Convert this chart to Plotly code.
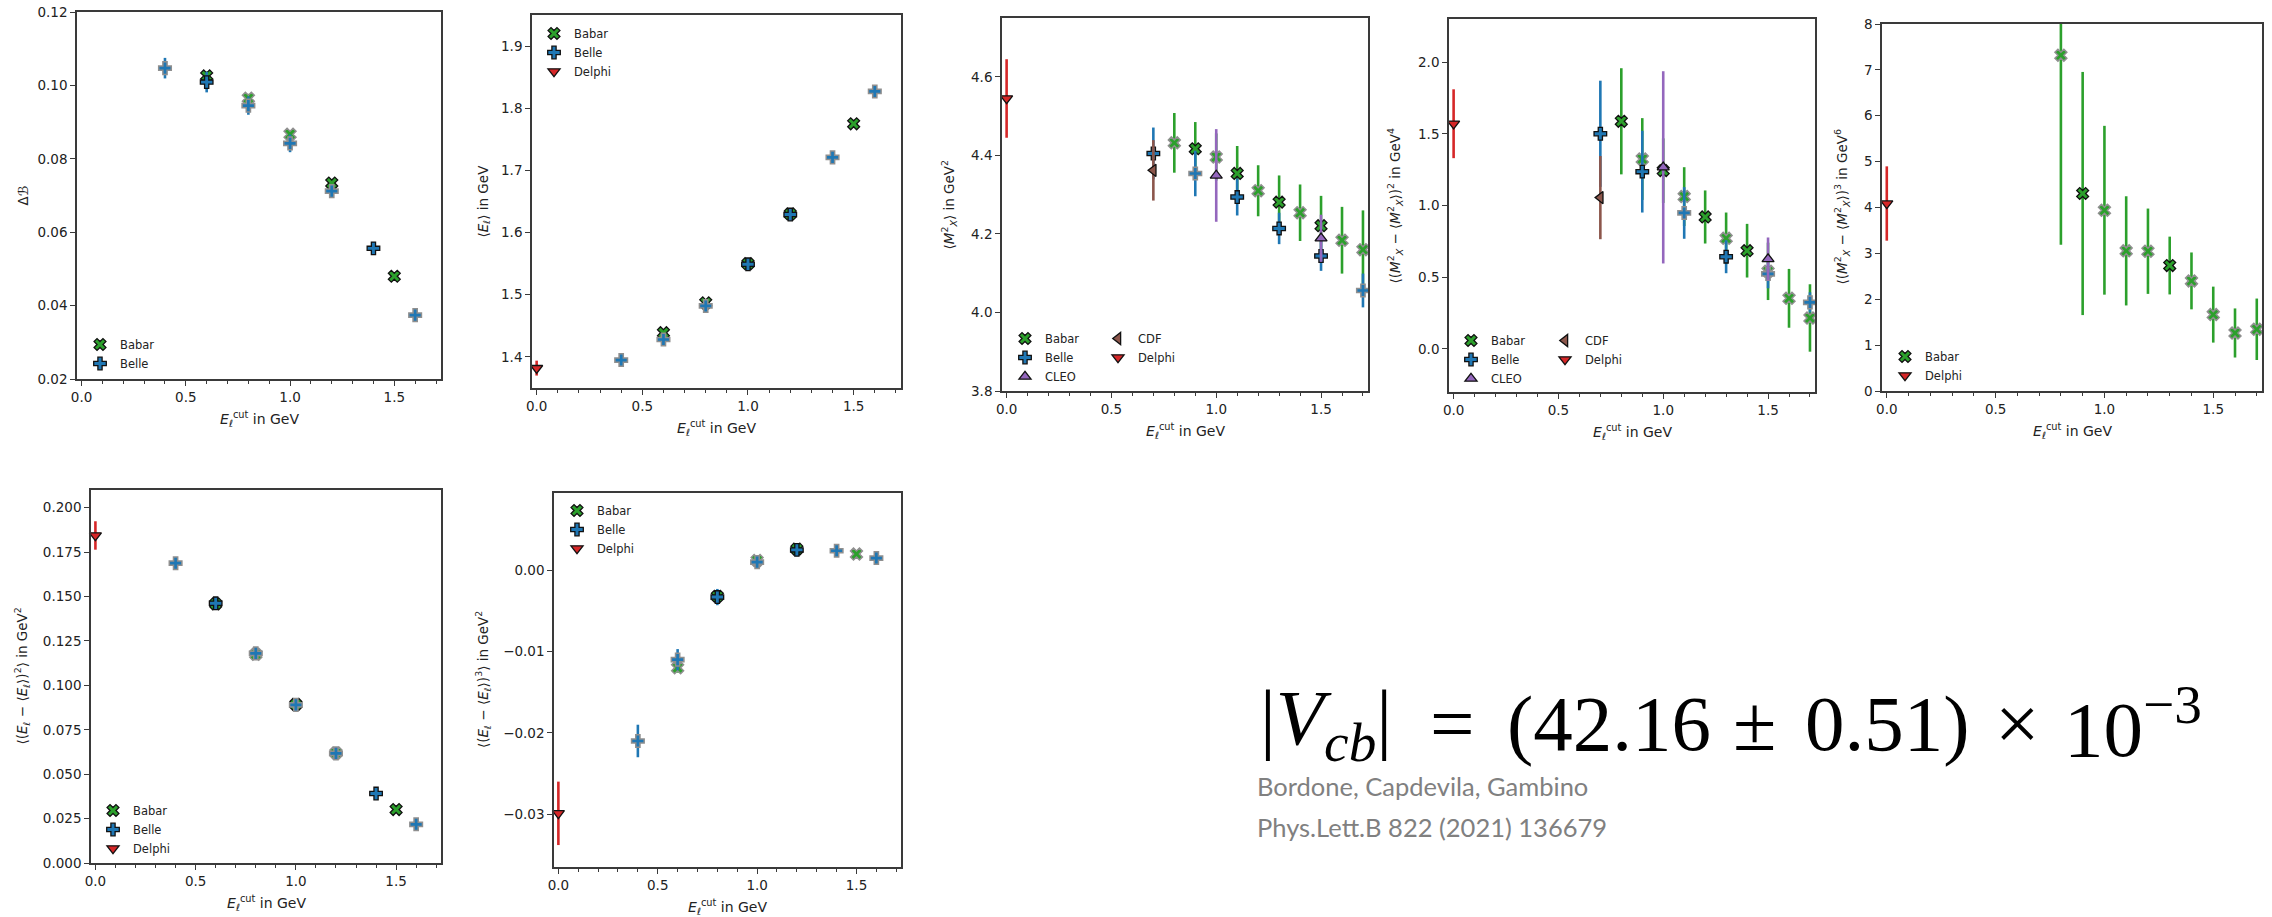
import plotly.graph_objects as go

W, H = 2272, 917

# ---------------- data ----------------
# Panel 1: Delta B
dB_babar_x = [0.6, 0.8, 1.0, 1.2, 1.5]
dB_babar_y = [0.1026, 0.0965, 0.0867, 0.0734, 0.0480]
dB_babar_e = [0.0012, 0.0012, 0.0010, 0.0008, 0.0005]
dB_babar_fit = [1, 0, 0, 1, 1]
dB_belle_x = [0.4, 0.6, 0.8, 1.0, 1.2, 1.4, 1.6]
dB_belle_y = [0.1047, 0.1009, 0.0945, 0.0842, 0.0712, 0.0556, 0.0374]
dB_belle_e = [0.0028, 0.0028, 0.0025, 0.0024, 0.0018, 0.0010, 0.0008]
dB_belle_fit = [0, 1, 0, 0, 0, 1, 0]

# Panel 2: <E_l>
El_babar_x = [0.6, 0.8, 1.0, 1.2, 1.5]
El_babar_y = [1.439, 1.487, 1.550, 1.630, 1.775]
El_babar_e = [0.004, 0.004, 0.003, 0.003, 0.003]
El_babar_fit = [1, 1, 1, 1, 1]
El_belle_x = [0.4, 0.6, 0.8, 1.0, 1.2, 1.4, 1.6]
El_belle_y = [1.395, 1.428, 1.482, 1.549, 1.629, 1.721, 1.827]
El_belle_e = [0.004, 0.004, 0.004, 0.004, 0.003, 0.003, 0.003]
El_belle_fit = [0, 0, 0, 1, 1, 0, 0]
El_delphi_x = [0.0]
El_delphi_y = [1.382]
El_delphi_e = [0.012]
El_delphi_fit = [1]

# Panel 3: <M_X^2>
M2_babar_x = [0.8, 0.9, 1.0, 1.1, 1.2, 1.3, 1.4, 1.5, 1.6, 1.7]
M2_babar_y = [4.432, 4.417, 4.396, 4.354, 4.310, 4.281, 4.254, 4.221, 4.184, 4.160]
M2_babar_e = [0.076, 0.068, 0.060, 0.070, 0.065, 0.068, 0.072, 0.076, 0.085, 0.100]
M2_babar_fit = [0, 1, 0, 1, 0, 1, 0, 1, 0, 0]
M2_belle_x = [0.7, 0.9, 1.1, 1.3, 1.5, 1.7]
M2_belle_y = [4.405, 4.354, 4.294, 4.214, 4.144, 4.056]
M2_belle_e = [0.066, 0.058, 0.047, 0.040, 0.038, 0.043]
M2_belle_fit = [1, 0, 1, 1, 1, 0]
M2_cleo_x = [1.0, 1.5]
M2_cleo_y = [4.349, 4.189]
M2_cleo_e = [0.118, 0.060]
M2_cleo_fit = [1, 1]
M2_cdf_x = [0.7]
M2_cdf_y = [4.362]
M2_cdf_e = [0.077]
M2_cdf_fit = [1]
M2_delphi_x = [0.0]
M2_delphi_y = [4.545]
M2_delphi_e = [0.100]
M2_delphi_fit = [1]

# Panel 4: second central moment of M_X^2
M4_babar_x = [0.8, 0.9, 1.0, 1.1, 1.2, 1.3, 1.4, 1.5, 1.6, 1.7]
M4_babar_y = [1.587, 1.324, 1.243, 1.062, 0.920, 0.771, 0.685, 0.541, 0.353, 0.216]
M4_babar_e = [0.370, 0.285, 0.225, 0.205, 0.185, 0.180, 0.187, 0.200, 0.205, 0.235]
M4_babar_fit = [1, 0, 1, 0, 1, 0, 1, 0, 0, 0]
M4_belle_x = [0.7, 0.9, 1.1, 1.3, 1.5, 1.7]
M4_belle_y = [1.500, 1.236, 0.948, 0.643, 0.523, 0.325]
M4_belle_e = [0.370, 0.285, 0.180, 0.115, 0.100, 0.070]
M4_belle_fit = [1, 1, 0, 1, 0, 0]
M4_cleo_x = [1.0, 1.5]
M4_cleo_y = [1.266, 0.627]
M4_cleo_e = [0.670, 0.150]
M4_cleo_fit = [1, 1]
M4_cdf_x = [0.7]
M4_cdf_y = [1.055]
M4_cdf_e = [0.290]
M4_cdf_fit = [1]
M4_delphi_x = [0.0]
M4_delphi_y = [1.570]
M4_delphi_e = [0.240]
M4_delphi_fit = [1]

# Panel 5: third central moment of M_X^2
M6_babar_x = [0.8, 0.9, 1.0, 1.1, 1.2, 1.3, 1.4, 1.5, 1.6, 1.7]
M6_babar_y = [7.32, 4.305, 3.94, 3.055, 3.047, 2.735, 2.40, 1.665, 1.265, 1.345]
M6_babar_e = [4.13, 2.65, 1.84, 1.19, 0.93, 0.63, 0.62, 0.61, 0.535, 0.67]
M6_babar_fit = [0, 1, 0, 0, 0, 1, 0, 0, 0, 0]
M6_delphi_x = [0.0]
M6_delphi_y = [4.087]
M6_delphi_e = [0.81]
M6_delphi_fit = [1]

# Panel 6: second central moment of E_l
E2_babar_x = [0.6, 0.8, 1.0, 1.2, 1.5]
E2_babar_y = [0.1459, 0.1175, 0.0893, 0.0620, 0.0301]
E2_babar_e = [0.0015, 0.0015, 0.0012, 0.0010, 0.0010]
E2_babar_fit = [1, 0, 1, 0, 1]
E2_belle_x = [0.4, 0.6, 0.8, 1.0, 1.2, 1.4, 1.6]
E2_belle_y = [0.1688, 0.1462, 0.1180, 0.0890, 0.0617, 0.0391, 0.0218]
E2_belle_e = [0.0035, 0.0025, 0.0020, 0.0015, 0.0012, 0.0010, 0.0010]
E2_belle_fit = [0, 1, 0, 0, 0, 1, 0]
E2_delphi_x = [0.0]
E2_delphi_y = [0.1844]
E2_delphi_e = [0.008]
E2_delphi_fit = [1]

# Panel 7: third central moment of E_l
E3_babar_x = [0.6, 0.8, 1.0, 1.2, 1.5]
E3_babar_y = [-0.0120, -0.0032, 0.0012, 0.0026, 0.0020]
E3_babar_e = [0.0006, 0.0004, 0.0003, 0.0003, 0.0002]
E3_babar_fit = [0, 1, 0, 1, 0]
E3_belle_x = [0.4, 0.6, 0.8, 1.0, 1.2, 1.4, 1.6]
E3_belle_y = [-0.0210, -0.0110, -0.0033, 0.0010, 0.0025, 0.0024, 0.0015]
E3_belle_e = [0.0020, 0.0013, 0.0010, 0.0005, 0.0004, 0.0003, 0.0003]
E3_belle_fit = [0, 0, 1, 0, 1, 0, 0]
E3_delphi_x = [0.0]
E3_delphi_y = [-0.0299]
E3_delphi_e = [0.0039]
E3_delphi_fit = [1]

# ---------------- styles ----------------
COL = {"Babar": "#2ca02c", "Belle": "#1f77b4", "CLEO": "#9467bd",
       "CDF": "#8c564b", "Delphi": "#d62728"}
SYM = {"Babar": "x", "Belle": "cross", "CLEO": "triangle-up",
       "CDF": "triangle-left", "Delphi": "triangle-down"}
FONT = "DejaVu Sans"
AX_COL = "#3a3a3a"

# panel frames in pixels: left, right, top, bottom
FRAMES = {
    1: (77, 441, 12, 379),
    2: (532, 901, 15, 388),
    3: (1002, 1368, 18, 391),
    4: (1449, 1815, 19, 392),
    5: (1882, 2262, 24, 391),
    6: (91, 441, 490, 863),
    7: (554, 901, 493, 867),
}
XR = [-0.022, 1.724]
YAX = {
    1: dict(range=[0.02, 0.12], dtick=0.02, tick0=0.02, tickformat=".2f"),
    2: dict(range=[1.35, 1.95], dtick=0.1, tick0=1.4, tickformat=".1f"),
    3: dict(range=[3.8, 4.75], dtick=0.2, tick0=3.8, tickformat=".1f"),
    4: dict(range=[-0.3, 2.3], dtick=0.5, tick0=0.0, tickformat=".1f"),
    5: dict(range=[0, 8], dtick=1, tick0=0, tickformat="d"),
    6: dict(range=[0, 0.21], dtick=0.025, tick0=0, tickformat=".3f"),
    7: dict(range=[-0.0365, 0.0095], dtick=0.01, tick0=0.0, tickformat=".2f"),
}

fig = go.Figure()


def add_series(panel, name, xs, ys, es, fit, legend):
    ax = "" if panel == 1 else str(panel)
    for flag in (0, 1):
        idx = [i for i, f in enumerate(fit) if f == flag]
        if not idx:
            continue
        show = (flag == 1) or (1 not in fit)
        fig.add_trace(go.Scatter(
            x=[xs[i] for i in idx], y=[ys[i] for i in idx],
            mode="markers", name=name, legend=legend, showlegend=show,
            xaxis="x" + ax, yaxis="y" + ax,
            cliponaxis=(name != "Delphi"),
            marker=dict(symbol=SYM[name], size=10.5, color=COL[name],
                        line=dict(color="#111111" if flag else "#8f8f8f",
                                  width=1.3 if flag else 1.5)),
            error_y=dict(type="data", array=[es[i] for i in idx],
                         color=COL[name], thickness=2.6, width=0),
        ))


add_series(1, "Babar", dB_babar_x, dB_babar_y, dB_babar_e, dB_babar_fit, "legend")
add_series(1, "Belle", dB_belle_x, dB_belle_y, dB_belle_e, dB_belle_fit, "legend")

add_series(2, "Babar", El_babar_x, El_babar_y, El_babar_e, El_babar_fit, "legend2")
add_series(2, "Belle", El_belle_x, El_belle_y, El_belle_e, El_belle_fit, "legend2")
add_series(2, "Delphi", El_delphi_x, El_delphi_y, El_delphi_e, El_delphi_fit, "legend2")

add_series(3, "Babar", M2_babar_x, M2_babar_y, M2_babar_e, M2_babar_fit, "legend3")
add_series(3, "Belle", M2_belle_x, M2_belle_y, M2_belle_e, M2_belle_fit, "legend3")
add_series(3, "CLEO", M2_cleo_x, M2_cleo_y, M2_cleo_e, M2_cleo_fit, "legend3")
add_series(3, "CDF", M2_cdf_x, M2_cdf_y, M2_cdf_e, M2_cdf_fit, "legend4")
add_series(3, "Delphi", M2_delphi_x, M2_delphi_y, M2_delphi_e, M2_delphi_fit, "legend4")

add_series(4, "Babar", M4_babar_x, M4_babar_y, M4_babar_e, M4_babar_fit, "legend5")
add_series(4, "Belle", M4_belle_x, M4_belle_y, M4_belle_e, M4_belle_fit, "legend5")
add_series(4, "CLEO", M4_cleo_x, M4_cleo_y, M4_cleo_e, M4_cleo_fit, "legend5")
add_series(4, "CDF", M4_cdf_x, M4_cdf_y, M4_cdf_e, M4_cdf_fit, "legend6")
add_series(4, "Delphi", M4_delphi_x, M4_delphi_y, M4_delphi_e, M4_delphi_fit, "legend6")

add_series(5, "Babar", M6_babar_x, M6_babar_y, M6_babar_e, M6_babar_fit, "legend7")
add_series(5, "Delphi", M6_delphi_x, M6_delphi_y, M6_delphi_e, M6_delphi_fit, "legend7")

add_series(6, "Babar", E2_babar_x, E2_babar_y, E2_babar_e, E2_babar_fit, "legend8")
add_series(6, "Belle", E2_belle_x, E2_belle_y, E2_belle_e, E2_belle_fit, "legend8")
add_series(6, "Delphi", E2_delphi_x, E2_delphi_y, E2_delphi_e, E2_delphi_fit, "legend8")

add_series(7, "Babar", E3_babar_x, E3_babar_y, E3_babar_e, E3_babar_fit, "legend9")
add_series(7, "Belle", E3_belle_x, E3_belle_y, E3_belle_e, E3_belle_fit, "legend9")
add_series(7, "Delphi", E3_delphi_x, E3_delphi_y, E3_delphi_e, E3_delphi_fit, "legend9")

# ---------------- axes ----------------
layout = dict(
    width=W, height=H, margin=dict(l=0, r=0, t=0, b=0),
    paper_bgcolor="white", plot_bgcolor="white", showlegend=True,
    font=dict(family=FONT, color="#222222"),
)
for p, (l, r, t, b) in FRAMES.items():
    ax = "" if p == 1 else str(p)
    common = dict(showgrid=False, zeroline=False, showline=True, mirror=True,
                  linecolor=AX_COL, linewidth=1.6, ticks="outside", ticklen=5,
                  tickwidth=1.2, tickcolor=AX_COL, automargin=False,
                  tickfont=dict(family=FONT, size=13.5, color="#222222"))
    layout["xaxis" + ax] = dict(
        domain=[l / W, r / W], anchor="y" + ax, range=XR,
        tickmode="linear", tick0=0, dtick=0.5, tickformat=".1f",
        minor=dict(ticks="outside", ticklen=3, tickwidth=1, tickcolor=AX_COL,
                   tick0=0, dtick=0.1),
        **common)
    layout["yaxis" + ax] = dict(
        domain=[1 - b / H, 1 - t / H], anchor="x" + ax, tickmode="linear",
        **YAX[p], **common)

# ---------------- legends ----------------
LEG = {  # name: (marker center x px, first row center y px)
    "legend": (100, 342),
    "legend2": (554, 31),
    "legend3": (1025, 336),
    "legend4": (1118, 336),
    "legend5": (1471, 338),
    "legend6": (1565, 338),
    "legend7": (1905, 354),
    "legend8": (113, 808),
    "legend9": (577, 508),
}
for name, (mx, my) in LEG.items():
    layout[name] = dict(
        x=(mx - 20) / W, xanchor="left", xref="paper",
        y=1 - (my - 12) / H, yanchor="top", yref="paper",
        bgcolor="rgba(0,0,0,0)", borderwidth=0, tracegroupgap=0,
        itemwidth=30, font=dict(family=FONT, size=11.5, color="#222222"))

fig.update_layout(**layout)

# ---------------- axis titles ----------------
XLAB = "<i>E</i><sub><i>ℓ</i></sub><sup>cut</sup> in GeV"
YLAB = {
    1: "Δℬ",
    2: "⟨<i>E</i><sub><i>ℓ</i></sub>⟩ in GeV",
    3: "⟨<i>M</i><sup>2</sup><sub><i>X</i></sub>⟩ in GeV<sup>2</sup>",
    4: "⟨(<i>M</i><sup>2</sup><sub><i>X</i></sub> − ⟨<i>M</i><sup>2</sup><sub><i>X</i></sub>⟩)<sup>2</sup> in GeV<sup>4</sup>",
    5: "⟨(<i>M</i><sup>2</sup><sub><i>X</i></sub> − ⟨<i>M</i><sup>2</sup><sub><i>X</i></sub>⟩)<sup>3</sup> in GeV<sup>6</sup>",
    6: "⟨(<i>E</i><sub><i>ℓ</i></sub> − ⟨<i>E</i><sub><i>ℓ</i></sub>⟩)<sup>2</sup>⟩ in GeV<sup>2</sup>",
    7: "⟨(<i>E</i><sub><i>ℓ</i></sub> − ⟨<i>E</i><sub><i>ℓ</i></sub>⟩)<sup>3</sup>⟩ in GeV<sup>2</sup>",
}
YOFF = {1: 55, 2: 49, 3: 53, 4: 54, 5: 39, 6: 69, 7: 71}
annos = []
for p, (l, r, t, b) in FRAMES.items():
    annos.append(dict(text=XLAB, x=(l + r) / 2 / W, y=1 - (b + 40) / H,
                      xref="paper", yref="paper", showarrow=False,
                      xanchor="center", yanchor="middle",
                      font=dict(family=FONT, size=14, color="#222222")))
    annos.append(dict(text=YLAB[p], x=(l - YOFF[p]) / W, y=1 - (t + b) / 2 / H,
                      xref="paper", yref="paper", showarrow=False, textangle=-90,
                      xanchor="center", yanchor="middle",
                      font=dict(family=FONT, size=13.5, color="#222222")))

# ---------------- formula and reference ----------------
SERIF = "Liberation Serif"
FSZ = 79
base_y = 723  # approximate vertical center of formula line (px)
pieces = [
    ("|<i>V</i><sub><i>cb</i></sub>|", 1258),
    ("=", 1428),
    ("(42.16", 1505),
    ("±", 1731),
    ("0.51)", 1803),
    ("×", 1993),
    ("10<sup>−3</sup>", 2062),
]
for txt, px in pieces:
    annos.append(dict(text=txt, x=px / W, y=1 - base_y / H, xref="paper", yref="paper",
                      showarrow=False, xanchor="left", yanchor="middle",
                      font=dict(family=SERIF, size=FSZ, color="#000000")))

annos.append(dict(text="Bordone, Capdevila, Gambino", x=1255 / W, y=1 - 786 / H,
                  xref="paper", yref="paper", showarrow=False, xanchor="left",
                  yanchor="middle", font=dict(family="Lato", size=25.5, color="#808080")))
annos.append(dict(text="Phys.Lett.B 822 (2021) 136679", x=1255 / W, y=1 - 827 / H,
                  xref="paper", yref="paper", showarrow=False, xanchor="left",
                  yanchor="middle", font=dict(family="Lato", size=25.5, color="#808080")))

fig.update_layout(annotations=annos)
fig.write_html("out.html")
